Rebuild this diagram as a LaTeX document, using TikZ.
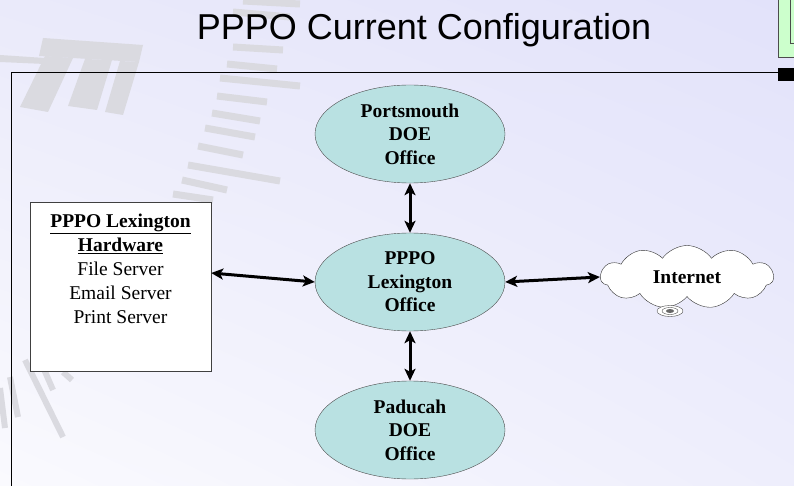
\documentclass[tikz,border=0pt]{standalone}
\usepackage{fontspec}
\setmainfont{Liberation Serif}
\newfontfamily\titlefont{Liberation Sans}
\usetikzlibrary{
  shapes.geometric,
  shapes.symbols,
  shadings,
  positioning,
  arrows.meta
}

\definecolor{officefill}{RGB}{185,225,226}
\definecolor{wmgray}{RGB}{218,218,224}
\definecolor{tabgreen}{RGB}{204,255,204}
\definecolor{bgul}{RGB}{234,234,250}
\definecolor{bgur}{RGB}{226,226,250}
\definecolor{bgll}{RGB}{250,250,254}
\definecolor{bglr}{RGB}{238,238,252}

\begin{document}
\begin{tikzpicture}[x=1pt, y=-1pt, >={Stealth[length=12pt,width=11pt,inset=3pt]},
    office/.style = {ellipse, draw=black!70, fill=officefill, minimum width=190pt,
      minimum height=98pt, inner sep=0pt, align=center,
      font=\fontsize{19.5}{23.5}\selectfont\bfseries},
    link/.style = {<->, line width=3pt},
    wmbar/.style = {wmgray, line width=7pt},
    wmline/.style = {wmgray, line width=6pt}]
    \useasboundingbox (0,0) rectangle (794,486);
    \shade[upper left=bgul, upper right=bgur, lower left=bgll, lower right=bglr]
      (0,0) rectangle (794,486);

    % background watermark
    \fill[wmgray] (43,38) -- (143,45) -- (139,62) -- (39,56) -- cycle;
    \fill[wmgray] (0,55) -- (45,58) -- (45,64) -- (0,62) -- cycle;
    \fill[wmgray] (45,56) -- (73,58) -- (48,112) -- (20,107) -- cycle;
    \fill[wmgray] (85,59) -- (112,60) -- (97,110) -- (68,106) -- cycle;
    \fill[wmgray] (120,61) -- (139,62) -- (123,115) -- (105,112) -- cycle;
    \draw[wmbar] (243,1) -- (300,4);
    \draw[wmbar] (233,12) -- (290,17);
    \draw[wmbar] (233,47) -- (283,50);
    \draw[wmbar] (227,64) -- (277,69);
    \draw[wmbar] (220,78) -- (300,86);
    \draw[wmbar] (217,96) -- (267,102);
    \draw[wmbar] (212,113) -- (260,121);
    \draw[wmbar] (205,128) -- (255,137);
    \draw[wmbar] (198,146) -- (243,155);
    \draw[wmbar] (188,165) -- (280,181);
    \draw[wmbar] (182,180) -- (227,190);
    \draw[wmbar] (173,194) -- (213,200);
    \draw[wmline] (25,360) -- (63,437);
    \draw[wmline] (10,377) -- (18,417);
    \draw[wmline] (43,367) -- (53,390);
    \draw[wmline] (63,372) -- (72,380);
    \draw[wmline] (0,388) -- (5,428);

    % slide frame
    \draw[black, line width=1pt] (778,73) -- (11,73) -- (11,486);
    \fill[black] (778,68) rectangle (794,81);
    \draw[black!70, fill=tabgreen] (778,-2) rectangle (796,57);
    \draw[black!70] (790,-2) -- (790,43) -- (796,43);

    \node[font=\titlefont\fontsize{36}{40}\selectfont, anchor=base] (title) at (424,40)
      {PPPO Current Configuration};

    \node[office] (port) at (410,134) {Portsmouth\\DOE\\Office};
    \node[office] (lex) at (410,282) {PPPO\\Lexington\\Office};
    \node[office] (pad) at (410,430) {Paducah\\DOE\\Office};

    \node[draw=black!75, fill=white, minimum width=181pt, minimum height=169pt,
      inner sep=0pt] (hw) at (120.5,286.5) {};
    \node[below=12pt of hw.north, inner sep=0pt, align=center,
      font=\fontsize{19.5}{24}\selectfont] (hwtext)
      {\textbf{\underline{PPPO Lexington}}\\\textbf{\underline{Hardware}}\\File Server\\Email Server\\Print Server};

    \node[cloud, cloud puffs=11, cloud puff arc=110, aspect=2.7, draw=black!80,
      fill=white, minimum width=173pt, minimum height=63pt, inner sep=0pt,
      font=\fontsize{19.5}{22}\selectfont\bfseries] (net) at (687,277) {Internet};
    \draw[black!70, fill=white] (670,311) ellipse [x radius=13, y radius=5.5];
    \draw[black!70] (670,311) ellipse [x radius=8, y radius=3.5];
    \fill[black!60] (670,311) ellipse [x radius=4, y radius=2];

    \draw[link] ([yshift=13.5pt]hw.east) -- (lex.west);
    \draw[link] (lex.east) -- (net.west);
    \draw[link] (port.south) -- (lex.north);
    \draw[link] (lex.south) -- (pad.north);
\end{tikzpicture}
\end{document}
